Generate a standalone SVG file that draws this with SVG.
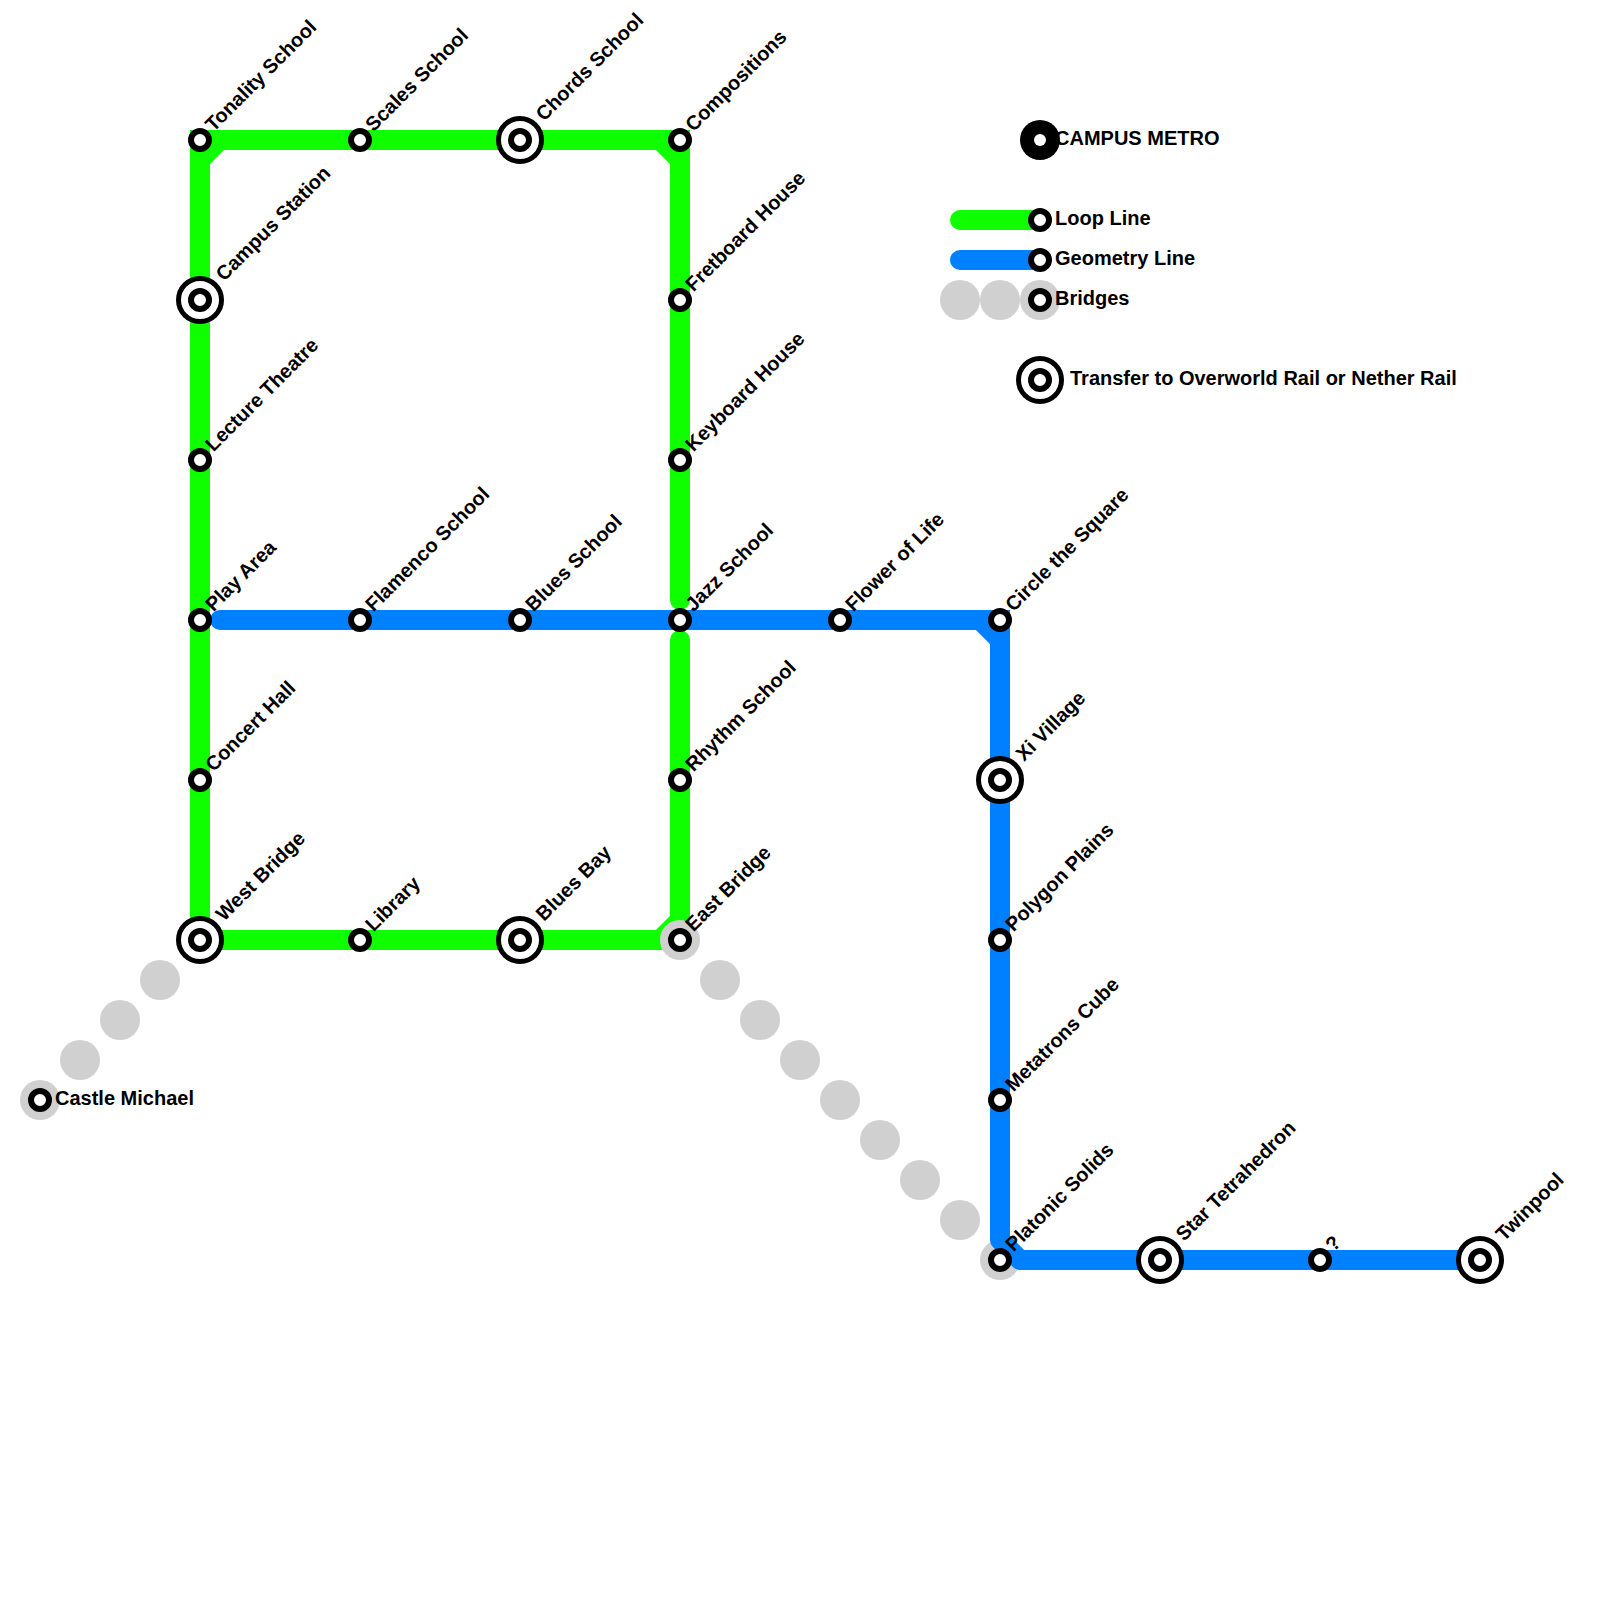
<svg xmlns="http://www.w3.org/2000/svg" width="1600" height="1600" viewBox="0 0 1600 1600">
<style>
.g{fill:none;stroke:#10ff00;stroke-width:20;stroke-linecap:round;stroke-linejoin:round}
.b{fill:none;stroke:#0080ff;stroke-width:20;stroke-linecap:round;stroke-linejoin:round}
.gc{fill:none;stroke:#10ff00;stroke-width:20;stroke-linejoin:miter}
.bc{fill:none;stroke:#0080ff;stroke-width:20;stroke-linejoin:miter}
.br{fill:#d0d0d0}
.s{fill:#fff;stroke:#000;stroke-width:6}
.x{fill:#fff;stroke:#000;stroke-width:5}
.t{font-family:"Liberation Sans",Arial,sans-serif;font-weight:700;font-size:20px;fill:#000}
</style>
<defs>
<g id="st"><circle r="9" class="s"/></g>
<g id="tr"><circle r="21.5" class="x"/><circle r="9" class="s"/></g>
</defs>
<rect width="1600" height="1600" fill="#fff"/>
<g id="connectors">
<path class="g" d="M680 600V160L660 140H220L200 160V940H660L680 920V640"/>
<path class="gc" d="M200 160V140H220M660 140H680V160M660 940H680V920"/>
<path class="g" d="M960 220H1040"/>
<g id="bridges">
<circle class="br" cx="160" cy="980" r="20"/><circle class="br" cx="120" cy="1020" r="20"/><circle class="br" cx="80" cy="1060" r="20"/><circle class="br" cx="40" cy="1100" r="20"/>
<circle class="br" cx="680" cy="940" r="20"/><circle class="br" cx="720" cy="980" r="20"/><circle class="br" cx="760" cy="1020" r="20"/><circle class="br" cx="800" cy="1060" r="20"/><circle class="br" cx="840" cy="1100" r="20"/><circle class="br" cx="880" cy="1140" r="20"/><circle class="br" cx="920" cy="1180" r="20"/><circle class="br" cx="960" cy="1220" r="20"/><circle class="br" cx="1000" cy="1260" r="20"/>
<circle class="br" cx="960" cy="300" r="20"/><circle class="br" cx="1000" cy="300" r="20"/><circle class="br" cx="1040" cy="300" r="20"/>
</g>
<path class="b" d="M220 620H980L1000 640V1240L1020 1260H1480"/>
<path class="bc" d="M980 620H1000V640"/>
<path class="b" d="M960 260H1040"/>
</g>
<g id="n1"><use href="#st" x="200" y="140"/><text class="t" transform="translate(213.500 132.500) rotate(-45)">Tonality School</text></g>
<g id="n2"><use href="#st" x="360" y="140"/><text class="t" transform="translate(373.500 132.500) rotate(-45)">Scales School</text></g>
<g id="n3"><use href="#tr" x="520" y="140"/><text class="t" transform="translate(544 122) rotate(-45)">Chords School</text></g>
<g id="n4"><use href="#st" x="680" y="140"/><text class="t" transform="translate(693.500 132.500) rotate(-45)">Compositions</text></g>
<g id="n5"><use href="#tr" x="200" y="300"/><text class="t" transform="translate(224 282) rotate(-45)">Campus Station</text></g>
<g id="n6"><use href="#st" x="680" y="300"/><text class="t" transform="translate(693.500 292.500) rotate(-45)">Fretboard House</text></g>
<g id="n7"><use href="#st" x="200" y="460"/><text class="t" transform="translate(213.500 452.500) rotate(-45)">Lecture Theatre</text></g>
<g id="n8"><use href="#st" x="680" y="460"/><text class="t" transform="translate(693.500 452.500) rotate(-45)">Keyboard House</text></g>
<g id="n9"><use href="#st" x="200" y="620"/><text class="t" transform="translate(213.500 612.500) rotate(-45)">Play Area</text></g>
<g id="n10"><use href="#st" x="360" y="620"/><text class="t" transform="translate(373.500 612.500) rotate(-45)">Flamenco School</text></g>
<g id="n11"><use href="#st" x="520" y="620"/><text class="t" transform="translate(533.500 612.500) rotate(-45)">Blues School</text></g>
<g id="n12"><use href="#st" x="680" y="620"/><text class="t" transform="translate(693.500 612.500) rotate(-45)">Jazz School</text></g>
<g id="n13"><use href="#st" x="840" y="620"/><text class="t" transform="translate(853.500 612.500) rotate(-45)">Flower of Life</text></g>
<g id="n14"><use href="#st" x="1000" y="620"/><text class="t" transform="translate(1013.500 612.500) rotate(-45)">Circle the Square</text></g>
<g id="n15"><use href="#st" x="200" y="780"/><text class="t" transform="translate(213.500 772.500) rotate(-45)">Concert Hall</text></g>
<g id="n16"><use href="#st" x="680" y="780"/><text class="t" transform="translate(693.500 772.500) rotate(-45)">Rhythm School</text></g>
<g id="n17"><use href="#tr" x="1000" y="780"/><text class="t" transform="translate(1024 762) rotate(-45)">Xi Village</text></g>
<g id="n18"><use href="#tr" x="200" y="940"/><text class="t" transform="translate(224 922) rotate(-45)">West Bridge</text></g>
<g id="n19"><use href="#st" x="360" y="940"/><text class="t" transform="translate(373.500 932.500) rotate(-45)">Library</text></g>
<g id="n20"><use href="#tr" x="520" y="940"/><text class="t" transform="translate(544 922) rotate(-45)">Blues Bay</text></g>
<g id="n21"><use href="#st" x="680" y="940"/><text class="t" transform="translate(693.500 932.500) rotate(-45)">East Bridge</text></g>
<g id="n22"><use href="#st" x="1000" y="940"/><text class="t" transform="translate(1013.500 932.500) rotate(-45)">Polygon Plains</text></g>
<g id="n23"><use href="#st" x="1000" y="1100"/><text class="t" transform="translate(1013.500 1092.500) rotate(-45)">Metatrons Cube</text></g>
<g id="n24"><use href="#st" x="1000" y="1260"/><text class="t" transform="translate(1013.500 1252.500) rotate(-45)">Platonic Solids</text></g>
<g id="n25"><use href="#tr" x="1160" y="1260"/><text class="t" transform="translate(1184 1242) rotate(-45)">Star Tetrahedron</text></g>
<g id="n26"><use href="#st" x="1320" y="1260"/><text class="t" transform="translate(1333.500 1252.500) rotate(-45)">?</text></g>
<g id="n27"><use href="#tr" x="1480" y="1260"/><text class="t" transform="translate(1504 1242) rotate(-45)">Twinpool</text></g>
<g id="n28"><use href="#st" x="40" y="1100"/><text class="t" x="55" y="1105">Castle Michael</text></g>
<g id="legend-title"><circle cx="1040" cy="140" r="20" fill="#000"/><circle cx="1040" cy="140" r="6" fill="#fff"/><text class="t" x="1055" y="145">CAMPUS METRO</text></g>
<g id="legend-loop"><use href="#st" x="1040" y="220"/><text class="t" x="1055" y="225">Loop Line</text></g>
<g id="legend-geometry"><use href="#st" x="1040" y="260"/><text class="t" x="1055" y="265">Geometry Line</text></g>
<g id="legend-bridges"><use href="#st" x="1040" y="300"/><text class="t" x="1055" y="305">Bridges</text></g>
<g id="legend-transfer"><use href="#tr" x="1040" y="380"/><text class="t" x="1070" y="385">Transfer to Overworld Rail or Nether Rail</text></g>
</svg>
